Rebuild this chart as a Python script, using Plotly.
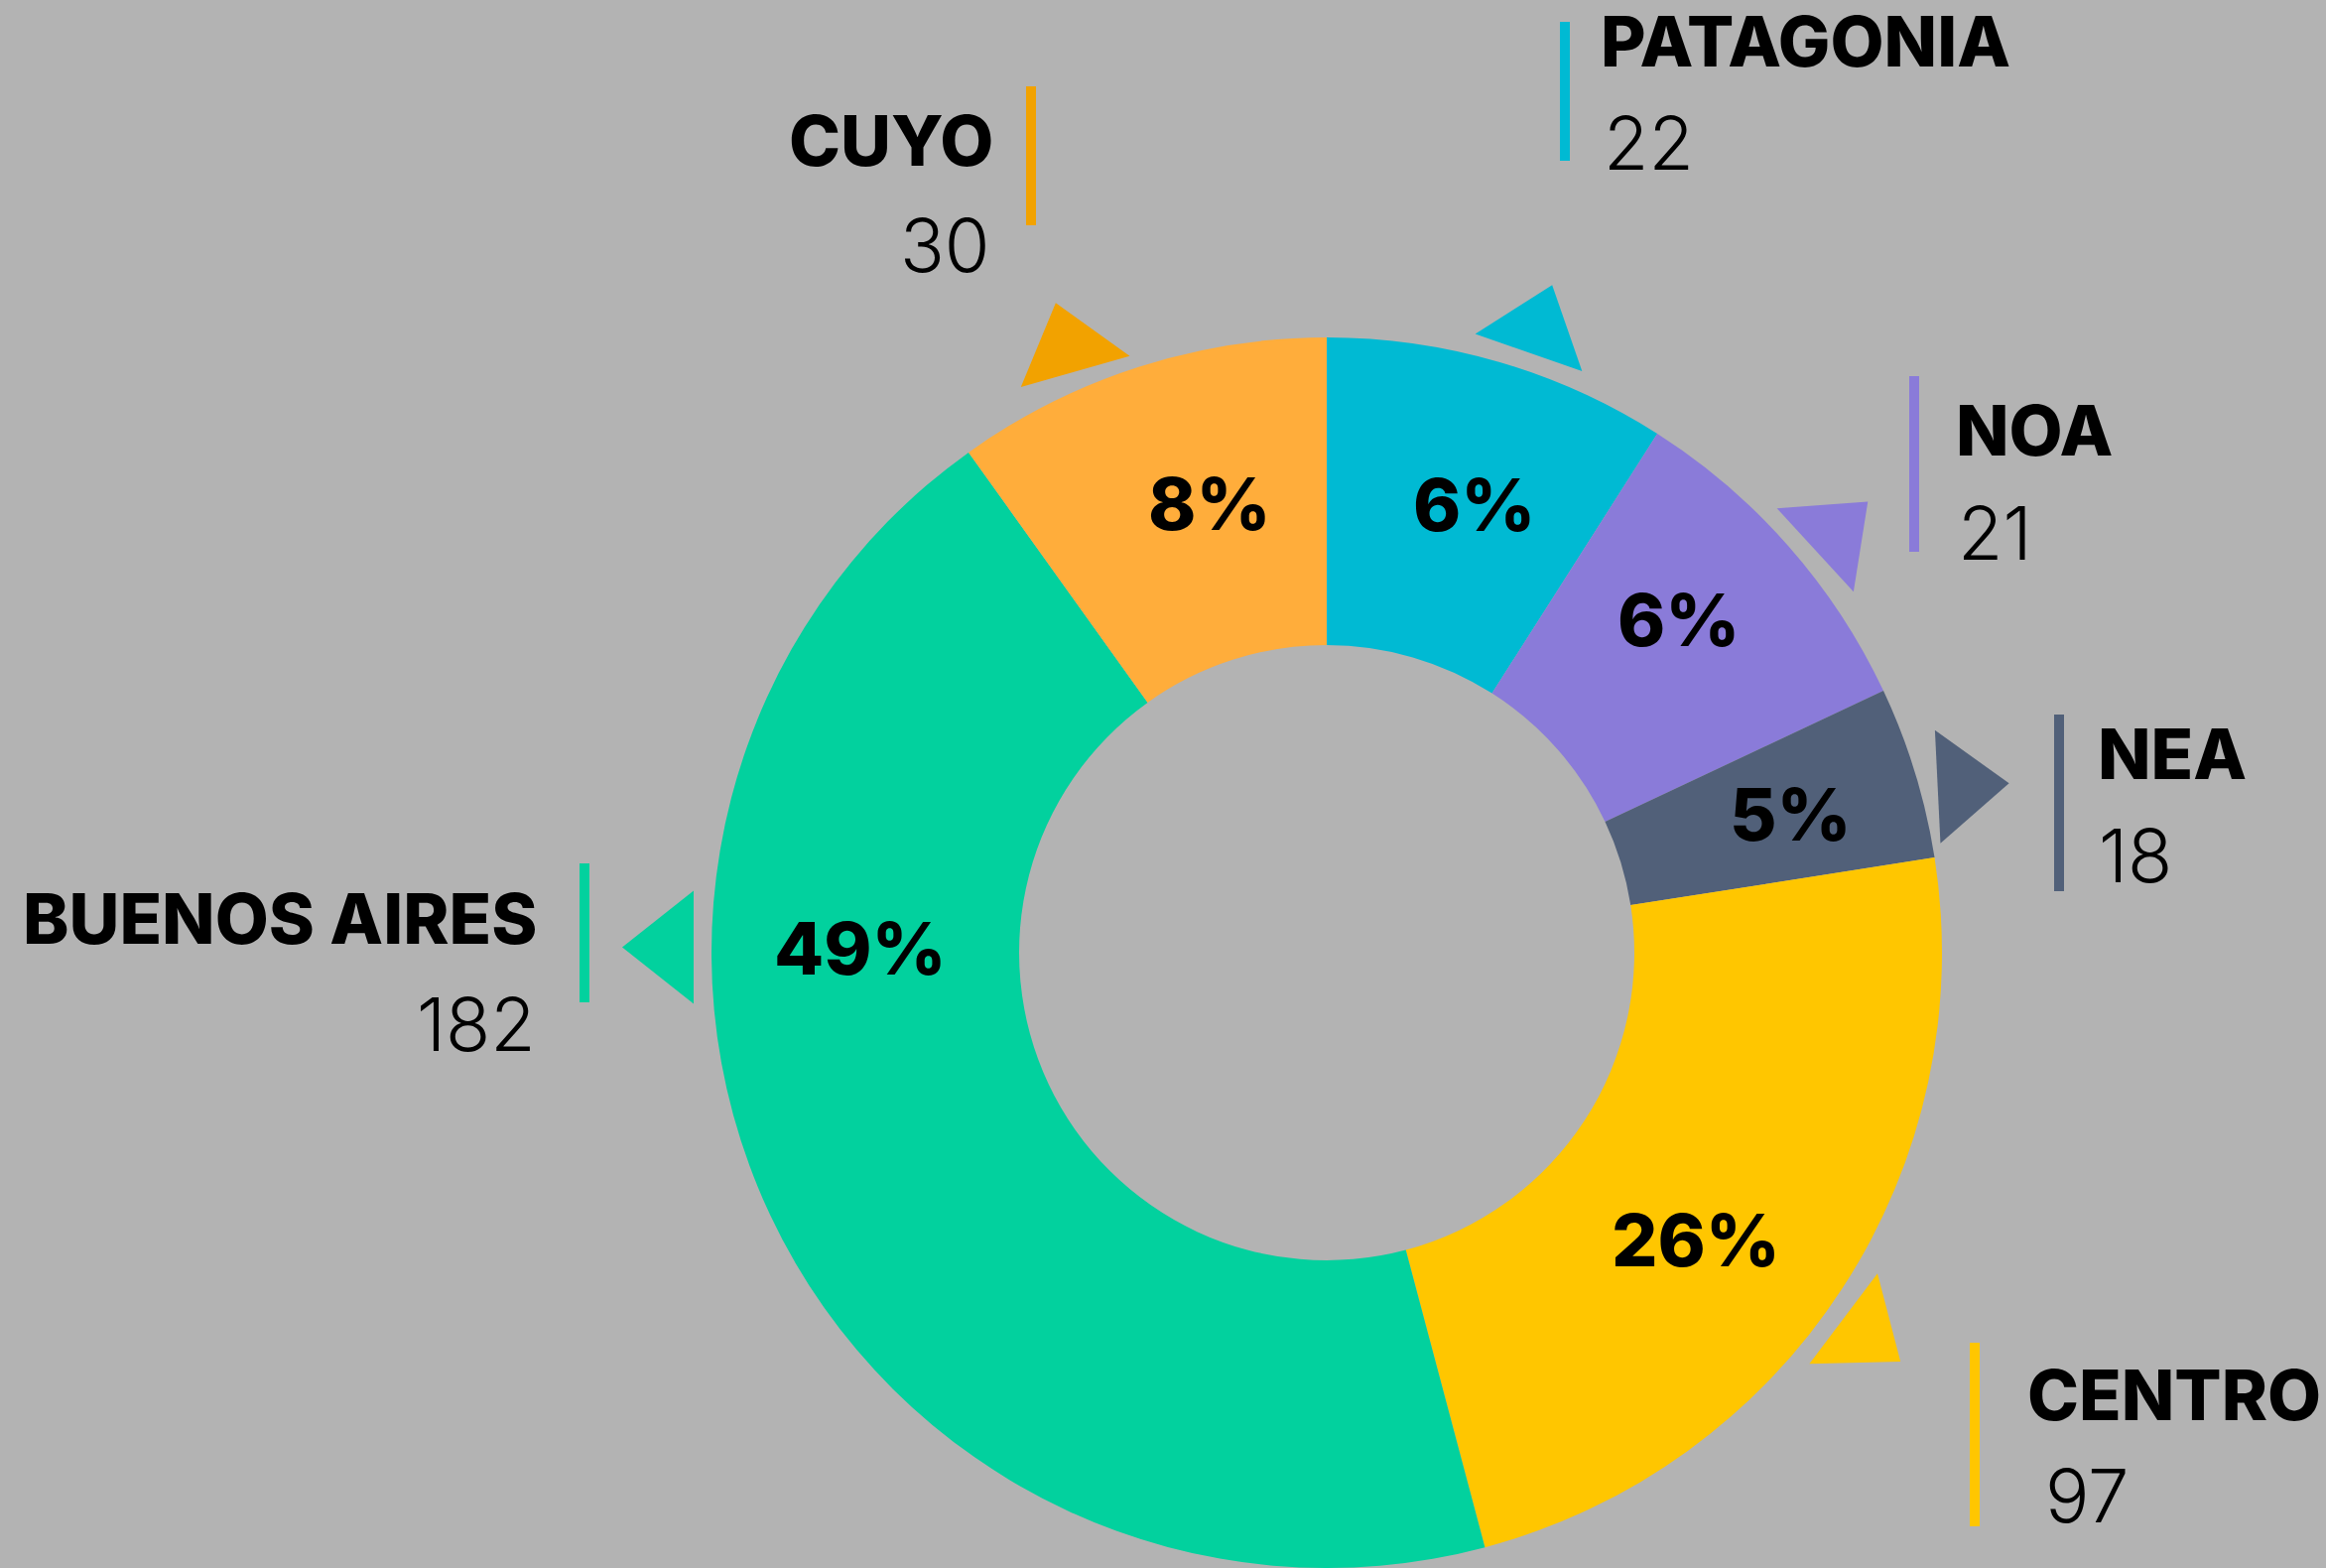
import math
import plotly.graph_objects as go

# ---------------- data ----------------
regions = ["PATAGONIA", "NOA", "NEA", "CENTRO", "BUENOS AIRES", "CUYO"]
counts = [22, 21, 18, 97, 182, 30]
pct_labels = ["6%", "6%", "5%", "26%", "49%", "8%"]
# arc of each slice as drawn in the picture (degrees, clockwise from 12 o'clock)
slice_arc_deg = [32.5, 32.3, 16.3, 84.0, 159.3, 35.6]

# ---------------- styling ----------------
slice_colors = ["#00BAD3", "#8A7BD9", "#516079", "#FFC600", "#02D19E", "#FFAD3B"]
accent_colors = ["#00BAD3", "#8A7BD9", "#516079", "#FFC600", "#02D19E", "#F2A200"]
BG = "#B3B3B3"
FONT = "Inter"

W, H = 2344, 1580
CX, CY, R = 1337, 960, 620

# label placement (layout only)
pct_angle = [18.2, 46.6, 73.4, 127.9, 270.6, 345.4]
pct_radius = [475, 488, 488, 472, 470, 468]
tri_angle = [18.6, 50.5, 74.8, 125.3, 270.5, 336.6]     # where the pointer sits
tri_orient = [19.2, 47.4, 87.2, 127.0, 270.0, 344.1]    # which way it points
tri_base_r, tri_base_len, tri_height = 638, 114, 72

callouts = [
    dict(side="left", bar_x=1577, bar_y0=22, bar_y1=162, name_x=1611, num_x=1614, name_y=41, num_y=144),
    dict(side="left", bar_x=1929, bar_y0=379, bar_y1=556, name_x=1969, num_x=1971, name_y=433, num_y=537),
    dict(side="left", bar_x=2075, bar_y0=720, bar_y1=898, name_x=2112, num_x=2113, name_y=759, num_y=862),
    dict(side="left", bar_x=1990, bar_y0=1353, bar_y1=1538, name_x=2041, num_x=2059, name_y=1405, num_y=1507),
    dict(side="right", bar_x=589, bar_y0=870, bar_y1=1010, name_x=543, num_x=542, name_y=925, num_y=1032),
    dict(side="right", bar_x=1039, bar_y0=87, bar_y1=227, name_x=1003, num_x=1000, name_y=141, num_y=247),
]


def px(x):
    return x / W


def py(y):
    return 1 - y / H


def polar(angle_deg, r):
    a = math.radians(angle_deg)
    return CX + r * math.sin(a), CY - r * math.cos(a)


fig = go.Figure()
fig.add_trace(go.Pie(
    labels=regions,
    values=slice_arc_deg,
    customdata=counts,
    marker=dict(colors=slice_colors, line=dict(width=0)),
    hole=0.5,
    sort=False,
    direction="clockwise",
    rotation=0,
    textinfo="none",
    hoverinfo="skip",
    showlegend=False,
    domain=dict(x=[px(CX - R), px(CX + R)], y=[py(CY + R), py(CY - R)]),
))

shapes = []
annotations = []

for i, name in enumerate(regions):
    # pointer triangle
    mx, my = polar(tri_angle[i], tri_base_r)
    o = math.radians(tri_orient[i])
    ux, uy = math.sin(o), -math.cos(o)
    tx, ty = math.cos(o), math.sin(o)
    p1 = (mx + tri_base_len / 2 * tx, my + tri_base_len / 2 * ty)
    p2 = (mx - tri_base_len / 2 * tx, my - tri_base_len / 2 * ty)
    p3 = (mx + tri_height * ux, my + tri_height * uy)
    path = "M {} {} L {} {} L {} {} Z".format(px(p1[0]), py(p1[1]), px(p3[0]), py(p3[1]), px(p2[0]), py(p2[1]))
    shapes.append(dict(type="path", path=path, xref="paper", yref="paper",
                       fillcolor=accent_colors[i], line=dict(width=0)))

    # vertical bar
    c = callouts[i]
    shapes.append(dict(type="rect", xref="paper", yref="paper",
                       x0=px(c["bar_x"] - 5), x1=px(c["bar_x"] + 5),
                       y0=py(c["bar_y1"]), y1=py(c["bar_y0"]),
                       fillcolor=accent_colors[i], line=dict(width=0)))

    # name + count
    annotations.append(dict(text=name, x=px(c["name_x"]), y=py(c["name_y"]), xref="paper", yref="paper",
                            xanchor=c["side"], yanchor="middle", showarrow=False,
                            font=dict(family=FONT, size=70, color="#000000", weight=800)))
    annotations.append(dict(text=str(counts[i]), x=px(c["num_x"]), y=py(c["num_y"]), xref="paper", yref="paper",
                            xanchor=c["side"], yanchor="middle", showarrow=False,
                            font=dict(family=FONT, size=74, color="#000000", weight=300)))

    # percentage inside slice
    lx, ly = polar(pct_angle[i], pct_radius[i])
    annotations.append(dict(text=pct_labels[i], x=px(lx), y=py(ly), xref="paper", yref="paper",
                            xanchor="center", yanchor="middle", showarrow=False,
                            font=dict(family=FONT, size=73, color="#000000", weight=800)))

fig.update_layout(
    width=W, height=H,
    margin=dict(l=0, r=0, t=0, b=0),
    paper_bgcolor=BG, plot_bgcolor=BG,
    shapes=shapes,
    annotations=annotations,
    showlegend=False,
)

fig.write_html(
    "out.html",
    config={"displayModeBar": False},
    post_script="document.body.style.margin='0';document.body.style.overflow='hidden';"
                "document.body.style.background='" + BG + "';",
)
